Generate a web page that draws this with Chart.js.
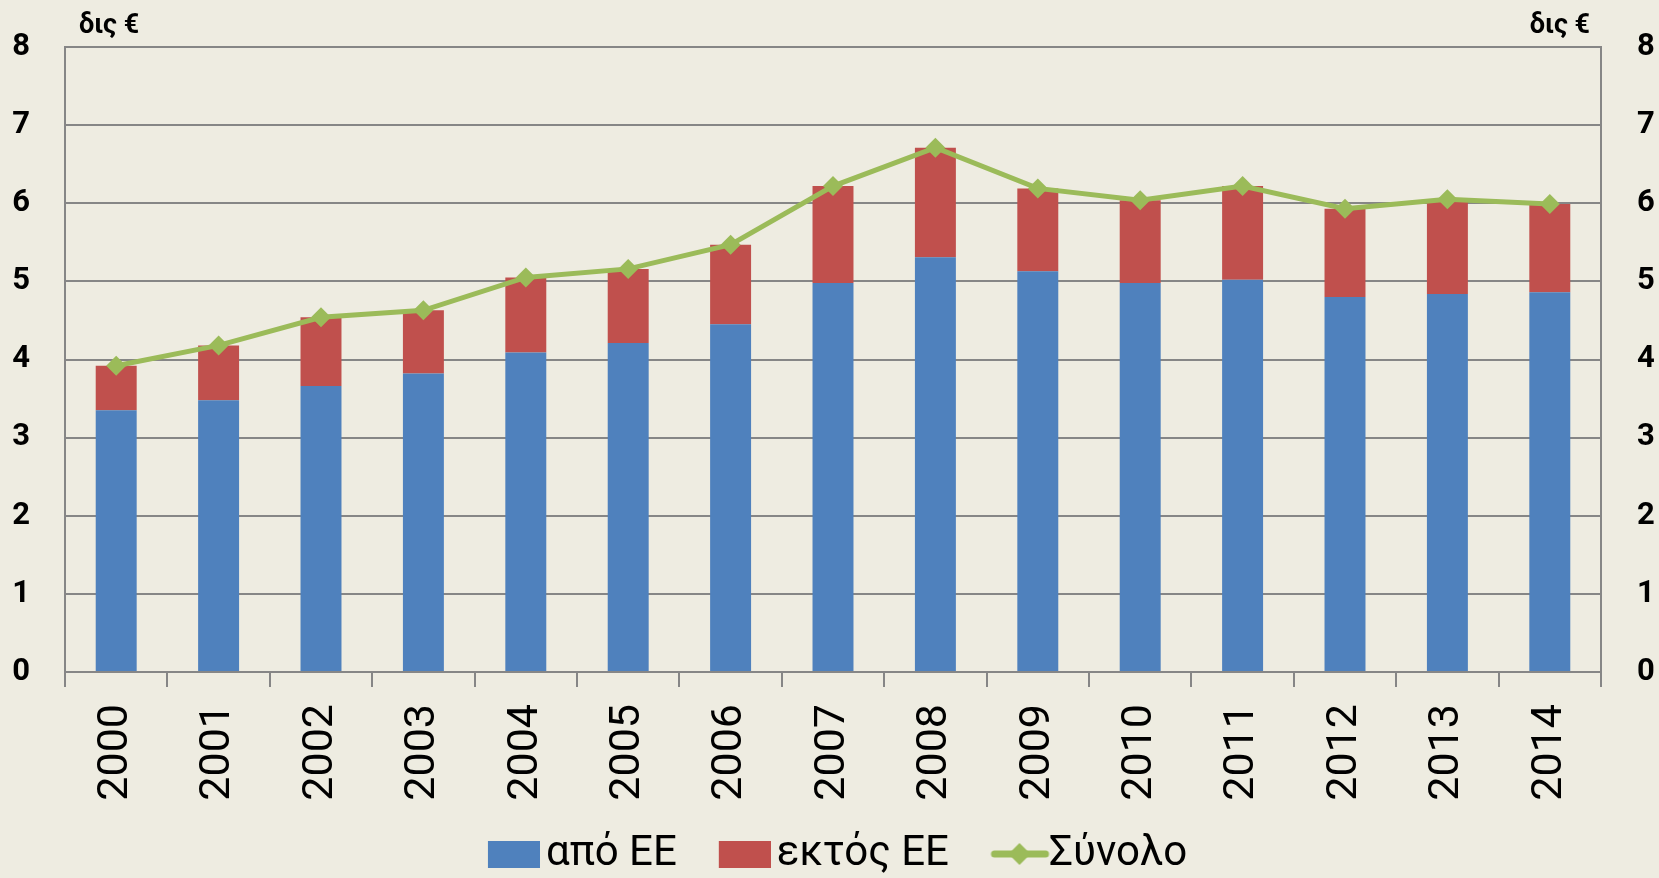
<!DOCTYPE html>
<html>
<head>
<meta charset="utf-8">
<script src="https://cdn.jsdelivr.net/npm/chart.js@4.4.0/dist/chart.umd.min.js"></script>
<style>
  html, body { margin: 0; padding: 0; background: #EEECE1; overflow: hidden; }
  #wrap { width: 1659px; height: 878px; }
</style>
</head>
<body>
<div id="wrap"><canvas id="myChart"></canvas></div>
<script>
// DATA (δις €)
const years = ["2000", "2001", "2002", "2003", "2004", "2005", "2006", "2007",
               "2008", "2009", "2010", "2011", "2012", "2013", "2014"];
const fromEU    = [3.35, 3.48, 3.66, 3.82, 4.09, 4.21, 4.45, 4.98, 5.31, 5.13, 4.98, 5.02, 4.80, 4.84, 4.86];
const outsideEU = [0.57, 0.70, 0.88, 0.81, 0.96, 0.95, 1.02, 1.24, 1.40, 1.06, 1.06, 1.20, 1.13, 1.21, 1.13];
const totals    = [3.92, 4.18, 4.54, 4.63, 5.05, 5.16, 5.47, 6.22, 6.71, 6.19, 6.04, 6.22, 5.93, 6.05, 5.99];
const seriesNames = ["από ΕΕ", "εκτός ΕΕ", "Σύνολο"];
const unitLabel = "δις €";
const yMin = 0, yMax = 8, yStep = 1;

const blue = "#4F81BD";
const red = "#C0504D";
const green = "#9BBB59";
const gridGray = "#868686";

// legend symbols (drawn wider than the layout box so they sit close to the text)
function boxImage(color) {
  const c = document.createElement('canvas');
  c.width = 67; c.height = 27;
  const g = c.getContext('2d');
  g.fillStyle = color;
  g.fillRect(15, 0, 52, 27);
  return c;
}
function lineImage(color) {
  const c = document.createElement('canvas');
  c.width = 84; c.height = 24;
  const g = c.getContext('2d');
  g.strokeStyle = color;
  g.lineWidth = 7;
  g.lineCap = 'round';
  g.beginPath(); g.moveTo(27, 12); g.lineTo(78, 12); g.stroke();
  g.fillStyle = color;
  g.beginPath(); g.moveTo(52, 1); g.lineTo(63, 12); g.lineTo(52, 23); g.lineTo(41, 12); g.closePath(); g.fill();
  return c;
}
const legendSymbols = [boxImage(blue), boxImage(red), lineImage(green)];

// "δις €" above both axes
const unitsPlugin = {
  id: 'units',
  afterDraw(chart) {
    const ctx = chart.ctx, a = chart.chartArea;
    ctx.save();
    ctx.font = 'bold 27px Roboto';
    ctx.fillStyle = '#000';
    ctx.textBaseline = 'alphabetic';
    ctx.textAlign = 'left';
    ctx.fillText(unitLabel, a.left + 14, a.top - 14);
    ctx.textAlign = 'right';
    ctx.fillText(unitLabel, a.right - 11, a.top - 14);
    ctx.restore();
  }
};

// nudge the legend into place
const legendShift = {
  id: 'legendShift',
  afterLayout(chart) {
    const lg = chart.legend;
    lg.left += 8; lg.right += 8;
    lg.top -= 9; lg.bottom -= 9;
  }
};

const tickFont = { family: 'Roboto', size: 31, weight: 'bold' };

function fixedWidth(w) {
  return function (scale) {
    scale.width = w;
    scale.paddingTop = 0;
    scale.paddingBottom = 0;
  };
}

new Chart("myChart", {
  type: "bar",
  data: {
    labels: years,
    datasets: [
      {
        type: "line",
        label: seriesNames[2],
        data: totals,
        yAxisID: "y2",
        borderColor: green,
        backgroundColor: green,
        borderWidth: 5,
        pointStyle: "rectRot",
        pointRadius: 10,
        pointBorderWidth: 0,
        pointBackgroundColor: green,
        tension: 0,
        order: 0
      },
      {
        label: seriesNames[0],
        data: fromEU,
        backgroundColor: blue,
        yAxisID: "y",
        order: 1
      },
      {
        label: seriesNames[1],
        data: outsideEU,
        backgroundColor: red,
        yAxisID: "y",
        order: 1
      }
    ]
  },
  options: {
    responsive: true,
    maintainAspectRatio: false,
    animation: false,
    datasets: { bar: { barPercentage: 0.4, categoryPercentage: 1 } },
    layout: { padding: { top: 47, left: 0, right: 0, bottom: -16 } },
    plugins: {
      tooltip: { enabled: false },
      legend: {
        position: "bottom",
        labels: {
          usePointStyle: true,
          pointStyleWidth: 37,
          boxHeight: 27,
          padding: 42,
          color: "#000",
          font: { family: "Roboto", size: 42 },
          generateLabels(chart) {
            const ds = chart.data.datasets;
            return [1, 2, 0].map((i, k) => ({
              text: ds[i].label,
              pointStyle: legendSymbols[k],
              fillStyle: ds[i].backgroundColor,
              strokeStyle: ds[i].backgroundColor,
              lineWidth: 0,
              hidden: false,
              datasetIndex: i
            }));
          }
        }
      }
    },
    scales: {
      x: {
        stacked: true,
        offset: true,
        afterFit(scale) { scale.height = 128; },
        grid: {
          offset: true,
          drawOnChartArea: false,
          drawTicks: true,
          tickLength: 15,
          color: gridGray,
          lineWidth: 2
        },
        border: { color: gridGray, width: 2 },
        ticks: {
          autoSkip: false,
          minRotation: 90,
          maxRotation: 90,
          padding: 17,
          color: "#000",
          font: { family: "Roboto", size: 43 }
        }
      },
      y: {
        stacked: true,
        position: "left",
        min: yMin, max: yMax,
        afterFit: fixedWidth(65),
        grid: { color: gridGray, lineWidth: 2, drawTicks: false },
        border: { color: gridGray, width: 2 },
        ticks: { stepSize: yStep, padding: 35, color: "#000", font: tickFont }
      },
      y2: {
        stacked: false,
        position: "right",
        min: yMin, max: yMax,
        afterFit: fixedWidth(58),
        grid: { drawOnChartArea: false, drawTicks: false },
        border: { color: gridGray, width: 2 },
        ticks: { stepSize: yStep, padding: 36, color: "#000", font: tickFont }
      }
    }
  },
  plugins: [unitsPlugin, legendShift]
});
</script>
</body>
</html>
